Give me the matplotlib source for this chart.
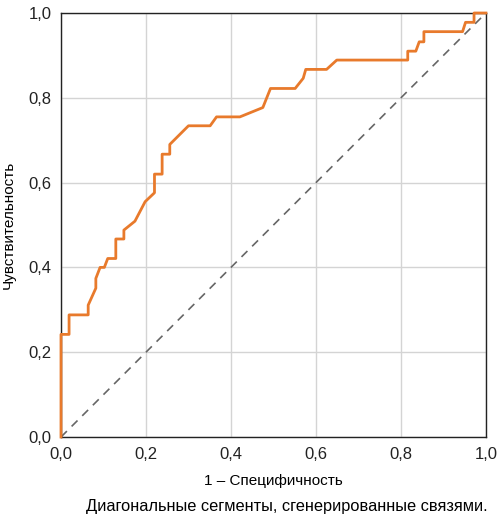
import matplotlib
matplotlib.use('Agg')
import matplotlib.pyplot as plt
from matplotlib.ticker import FuncFormatter

plt.rcParams['font.family'] = ['Liberation Sans', 'DejaVu Sans']

# ROC curve points
fpr = [0, 0, 0.019, 0.019, 0.064, 0.064, 0.082, 0.082, 0.092, 0.102, 0.110,
       0.129, 0.129, 0.148, 0.148, 0.174, 0.198, 0.220, 0.220, 0.238, 0.238,
       0.256, 0.256, 0.300, 0.351, 0.366, 0.421, 0.475, 0.493, 0.551, 0.570,
       0.576, 0.625, 0.649, 0.816, 0.816, 0.835, 0.843, 0.854, 0.854, 0.945,
       0.952, 0.972, 0.972, 1.0]
tpr = [0, 0.242, 0.242, 0.288, 0.288, 0.311, 0.351, 0.374, 0.400, 0.400, 0.421,
       0.421, 0.467, 0.467, 0.488, 0.509, 0.555, 0.576, 0.620, 0.620, 0.667,
       0.667, 0.690, 0.734, 0.734, 0.755, 0.755, 0.777, 0.822, 0.822, 0.846,
       0.867, 0.867, 0.889, 0.889, 0.910, 0.910, 0.932, 0.932, 0.956, 0.956,
       0.978, 0.978, 1.0, 1.0]
diag = [0, 1]
ticks = [0, 0.2, 0.4, 0.6, 0.8, 1.0]

fig = plt.figure(figsize=(5.02, 5.16), dpi=100)
ax = fig.add_axes([0.1215, 0.1531, 0.8465, 0.8217])

ax.plot(diag, diag, color='#666666', lw=1.2, ls=(0, (5, 4)), zorder=2)
ax.plot(fpr, tpr, color='#E87A2C', lw=2, zorder=3, clip_on=False)

ax.set_xlim(0, 1)
ax.set_ylim(0, 1)
ax.set_xticks(ticks)
ax.set_yticks(ticks)
fmt = FuncFormatter(lambda v, p: f'{v:.1f}'.replace('.', ','))
ax.xaxis.set_major_formatter(fmt)
ax.yaxis.set_major_formatter(fmt)
ax.tick_params(length=0, labelsize=12, colors='#222222')
ax.tick_params(axis='x', pad=7)
ax.tick_params(axis='y', pad=7)
ax.grid(True, color='#d4d4d4', lw=1)
ax.set_axisbelow(True)
for s in ax.spines.values():
    s.set_color('#222222')
    s.set_linewidth(1)

ax.set_xlabel('1 – Специфичность', fontsize=11)
ax.xaxis.set_label_coords(0.5, -0.087)
ax.set_ylabel('Чувствительность', fontsize=11)
ax.yaxis.set_label_coords(-0.107, 0.5)
fig.text(0.571, 0.0175, 'Диагональные сегменты, сгенерированные связями.',
         ha='center', va='center', fontsize=11.8)

fig.savefig('out.png', dpi=100)
